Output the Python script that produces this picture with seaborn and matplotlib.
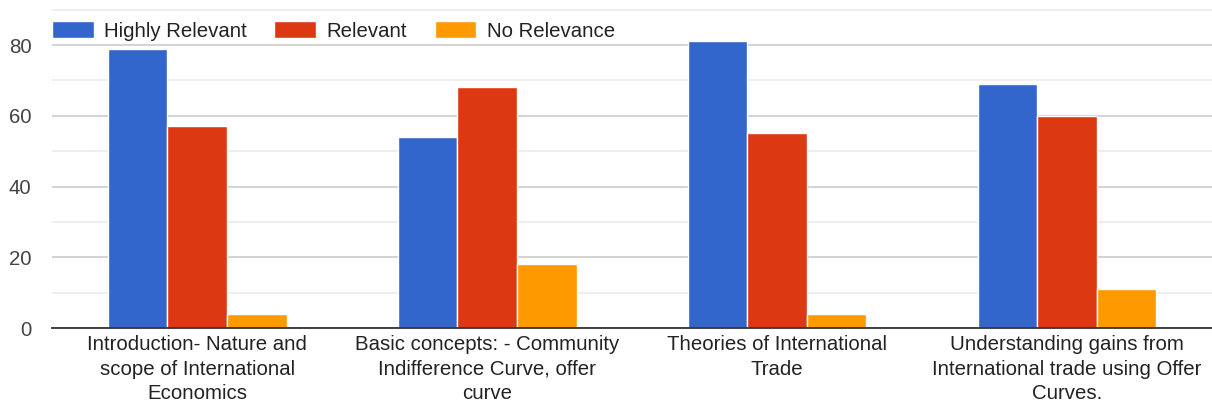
import matplotlib
matplotlib.use("Agg")
import matplotlib.pyplot as plt
import seaborn as sns
import pandas as pd
from matplotlib.ticker import MultipleLocator

topics = [
    "Introduction- Nature and\nscope of International\nEconomics",
    "Basic concepts: - Community\nIndifference Curve, offer\ncurve",
    "Theories of International\nTrade",
    "Understanding gains from\nInternational trade using Offer\nCurves.",
]
series = ["Highly Relevant", "Relevant", "No Relevance"]
highly_relevant = [79, 54, 81, 69]
relevant = [57, 68, 55, 60]
no_relevance = [4, 18, 4, 11]
colors = ["#3366cc", "#dc3912", "#ff9900"]

df = pd.DataFrame({
    "topic": topics * 3,
    "response": [s for s in series for _ in topics],
    "count": highly_relevant + relevant + no_relevance,
})

sns.set_theme(style="white")
plt.rcParams["font.family"] = ["Liberation Sans", "DejaVu Sans"]

FS = 14.7

fig = plt.figure(figsize=(12.12, 4.08), dpi=100)
ax = fig.add_axes([0.043, 0.196, 0.957, 0.783])

sns.barplot(data=df, x="topic", y="count", hue="response", hue_order=series,
            palette=colors, saturation=1, width=0.617, edgecolor="white",
            linewidth=1.0, ax=ax, legend=False, zorder=3)

ax.set_ylim(0, 90.3)
ax.set_xlim(-0.5, 3.5)
ax.yaxis.set_major_locator(MultipleLocator(20))
ax.yaxis.set_minor_locator(MultipleLocator(10))
ax.grid(which="major", axis="y", color="#cccccc", linewidth=1.2, zorder=0)
ax.grid(which="minor", axis="y", color="#ebebeb", linewidth=1.2, zorder=0)
ax.set_axisbelow(True)
for s in ["top", "right", "left"]:
    ax.spines[s].set_visible(False)
ax.spines["bottom"].set_color("#333333")
ax.spines["bottom"].set_linewidth(1.3)
ax.spines["bottom"].set_zorder(4)
ax.set_xlabel("")
ax.set_ylabel("")
ax.tick_params(axis="both", which="both", length=0)
ax.tick_params(axis="y", labelsize=FS, labelcolor="#444444", pad=15)
ax.tick_params(axis="x", labelsize=FS, labelcolor="#222222", pad=5)
ax.set_yticks([0, 20, 40, 60, 80])
for lbl in ax.get_xticklabels():
    lbl.set_linespacing(1.38)
    lbl.set_ha("center")

handles = [plt.Rectangle((0, 0), 1, 1, facecolor=c, edgecolor="white") for c in colors]
fig.legend(handles, series, loc="center left", bbox_to_anchor=(0.043, 0.925),
           ncol=3, frameon=False, fontsize=FS, handlelength=2.05, handleheight=0.95,
           handletextpad=0.5, columnspacing=1.35, labelcolor="#222222",
           borderpad=0, borderaxespad=0)

fig.savefig("out.png", dpi=100)
